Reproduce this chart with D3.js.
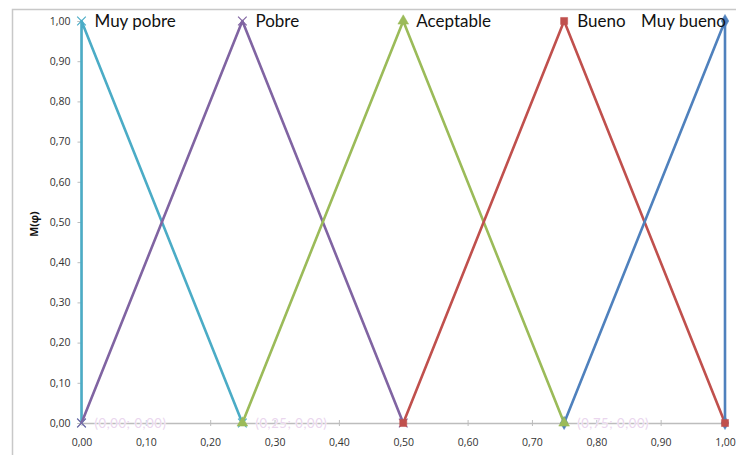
<!DOCTYPE html>
<html>
<head>
<meta charset="utf-8">
<script src="https://cdn.jsdelivr.net/npm/d3@7"></script>
<style>
  html, body { margin: 0; padding: 0; background: #fff; }
  svg { display: block; font-family: Lato, "Open Sans", sans-serif; }
</style>
</head>
<body>
<svg id="chart" width="736" height="455"></svg>
<script>
// Membership function sets: x = phi, y = membership degree
const setNames = ["Muy pobre", "Pobre", "Aceptable", "Bueno", "Muy bueno"];
const setColors = ["#4BACC6", "#8064A2", "#9BBB59", "#C0504D", "#4F81BD"];
const setMarkers = ["x", "x", "triangle", "square", "diamond"];
const setX = [
  [0.00, 0.00, 0.25],
  [0.00, 0.25, 0.50],
  [0.25, 0.50, 0.75],
  [0.50, 0.75, 1.00],
  [0.75, 1.00, 1.00]
];
const setY = [
  [0.00, 1.00, 0.00],
  [0.00, 1.00, 0.00],
  [0.00, 1.00, 0.00],
  [0.00, 1.00, 0.00],
  [0.00, 1.00, 0.00]
];
// faint point labels at the feet of the triangles
const footLabels = ["0,00; 0,00", "0,25; 0,00", "0,75; 0,00"];
const footX = [0.00, 0.25, 0.75];

const xTicks = [0, 0.1, 0.2, 0.3, 0.4, 0.5, 0.6, 0.7, 0.8, 0.9, 1.0];
const yTicks = [0, 0.1, 0.2, 0.3, 0.4, 0.5, 0.6, 0.7, 0.8, 0.9, 1.0];
const yTitle = "M(φ)";

const svg = d3.select("#chart");
const fmt = v => d3.format(".2f")(v).replace(".", ",");

const x = d3.scaleLinear().domain([0, 1]).range([81.5, 725]);
const y = d3.scaleLinear().domain([0, 1]).range([423, 21]);

// chart frame
svg.append("path")
  .attr("d", "M12.5,455 L12.5,9.5 L736,9.5")
  .attr("fill", "none").attr("stroke", "#c8c8c8").attr("stroke-width", 1.5);

// y axis
const yAxis = svg.append("g")
  .attr("transform", `translate(${x(0)},0)`)
  .call(d3.axisLeft(y).tickValues(yTicks).tickFormat(fmt).tickSize(4).tickPadding(7));
yAxis.select(".domain").attr("stroke", "#bdbdbd");
yAxis.selectAll(".tick line").attr("stroke", "#bdbdbd");
yAxis.selectAll("text").attr("fill", "#333").attr("font-size", 10.5)
  .attr("font-family", "'Open Sans', sans-serif");

// x axis
const xAxis = svg.append("g")
  .attr("transform", `translate(0,${y(0)})`)
  .call(d3.axisBottom(x).tickValues(xTicks).tickFormat(fmt).tickSizeInner(-3).tickSizeOuter(0).tickPadding(16));
xAxis.select(".domain").attr("stroke", "#bdbdbd").attr("stroke-width", 1.5);
xAxis.selectAll(".tick line").attr("stroke", "#bdbdbd").attr("y1", 3);
xAxis.selectAll("text").attr("fill", "#333").attr("font-size", 10.5)
  .attr("font-family", "'Open Sans', sans-serif");

// faint point labels
svg.append("g").selectAll("text").data(footLabels).join("text")
  .attr("x", (d, i) => x(footX[i]) + 13)
  .attr("y", y(0) + 5)
  .attr("font-size", 13)
  .attr("letter-spacing", 0.6)
  .attr("fill", "#ead6ee")
  .attr("stroke", "#fff").attr("stroke-width", 0.6)
  .attr("paint-order", "stroke")
  .text(d => "(" + d + ")");

// y axis title
svg.append("text")
  .attr("transform", `translate(38,224) rotate(-90)`)
  .attr("text-anchor", "middle")
  .attr("font-size", 10.5).attr("font-weight", "bold").attr("fill", "#111")
  .attr("font-family", "'Open Sans', sans-serif")
  .text(yTitle);

// lines
const line = d3.line().x(d => x(d[0])).y(d => y(d[1]));
const series = setNames.map((name, i) => ({
  name, color: setColors[i], marker: setMarkers[i],
  pts: setX[i].map((v, j) => [v, setY[i][j]])
}));

const gS = svg.append("g");
series.forEach(s => {
  gS.append("path")
    .attr("d", line(s.pts))
    .attr("fill", "none").attr("stroke", s.color)
    .attr("stroke-width", 2.6).attr("stroke-linejoin", "round");
});

// markers (the last set is drawn underneath the others)
const symbolFor = {
  x: d3.symbolX, triangle: d3.symbolTriangle, square: d3.symbolSquare, diamond: d3.symbolDiamond
};
const markerOrder = [4, 0, 1, 2, 3];
markerOrder.forEach(i => {
  const s = series[i];
  const sym = d3.symbol().type(symbolFor[s.marker]).size(s.marker === "x" ? 50 : 50);
  gS.append("g").selectAll("path").data(s.pts).join("path")
    .attr("transform", d => `translate(${x(d[0])},${y(d[1])})`)
    .attr("d", sym)
    .attr("fill", s.marker === "x" ? "none" : s.color)
    .attr("stroke", s.color)
    .attr("stroke-width", s.marker === "x" ? 1.2 : 0.5);
});

// set names beside each peak
series.forEach((s, i) => {
  const peak = s.pts.find(p => p[1] === 1);
  const last = i === series.length - 1;
  svg.append("text")
    .attr("x", last ? x(peak[0]) + 1 : x(peak[0]) + 13)
    .attr("y", y(1) + 6)
    .attr("text-anchor", last ? "end" : "start")
    .attr("font-size", 17).attr("fill", "#111")
    .text(s.name);
});
</script>
</body>
</html>
